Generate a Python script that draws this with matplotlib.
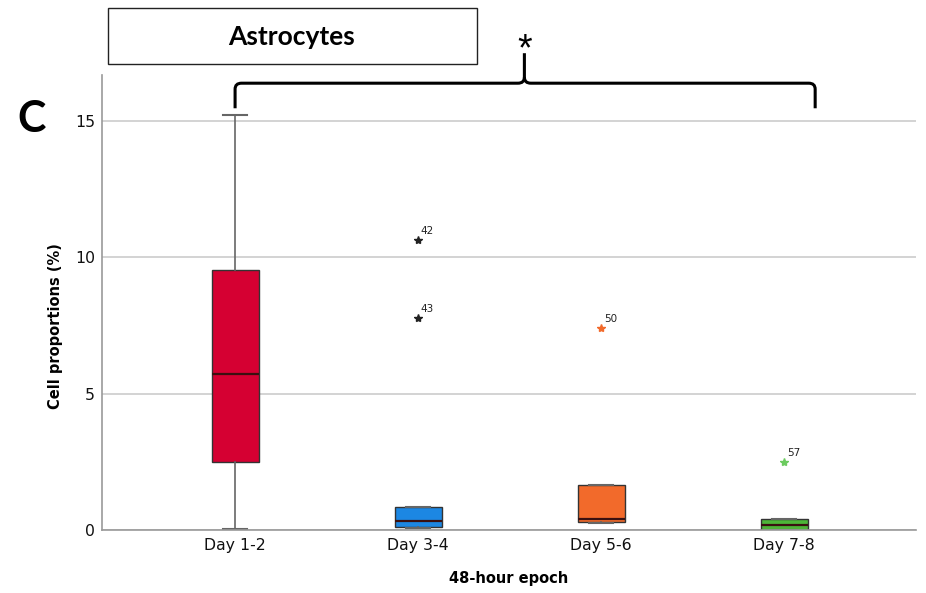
import matplotlib
matplotlib.use("Agg")
import matplotlib.pyplot as plt
from matplotlib.patches import Rectangle, PathPatch
from matplotlib.path import Path

plt.rcParams["font.family"] = ["DejaVu Sans"]

# Box-plot summaries per 48-hour epoch (cell proportions, %)
epochs = ["Day 1-2", "Day 3-4", "Day 5-6", "Day 7-8"]
whisker_low = [0.02, 0.06, 0.25, 0.0]
q1 = [2.49, 0.11, 0.28, 0.0]
median = [5.72, 0.33, 0.40, 0.18]
q3 = [9.53, 0.84, 1.65, 0.39]
whisker_high = [15.22, 0.84, 1.65, 0.39]
box_colors = ["#D50032", "#1C87E3", "#F26A2B", "#4DB538"]

# Extreme values flagged with case numbers
outlier_epoch = [1, 1, 2, 3]
outlier_value = [10.63, 7.77, 7.41, 2.49]
outlier_case = ["42", "43", "50", "57"]
outlier_colors = ["#222222", "#222222", "#F26A2B", "#6CCB5F"]

fig = plt.figure(figsize=(9.26, 5.93), dpi=100)
ax = fig.add_axes([0.1102, 0.1062, 0.8788, 0.7673])

stats = []
for i in range(len(epochs)):
    stats.append(dict(med=median[i], q1=q1[i], q3=q3[i],
                      whislo=whisker_low[i], whishi=whisker_high[i],
                      fliers=[], label=epochs[i]))

bp = ax.bxp(stats, positions=range(len(epochs)), widths=0.257,
            patch_artist=True, showfliers=False,
            boxprops=dict(edgecolor="#333333", linewidth=1.0),
            medianprops=dict(color="#3a1010", linewidth=1.6),
            whiskerprops=dict(color="#666666", linewidth=1.2),
            capprops=dict(color="#666666", linewidth=1.5),
            capwidths=0.13)
for patch, c in zip(bp["boxes"], box_colors):
    patch.set_facecolor(c)

for xi, v, lab, c in zip(outlier_epoch, outlier_value, outlier_case, outlier_colors):
    ax.plot(xi, v, marker="*", color=c, markersize=6, linestyle="none", zorder=4)
    ax.annotate(lab, (xi, v), xytext=(2, 3), textcoords="offset points",
                fontsize=7.5, color="#222222", ha="left", va="bottom")

ax.set_xlim(-0.727, 3.72)
ax.set_ylim(0, 16.69)
ax.set_yticks([0, 5, 10, 15])
ax.set_yticklabels(["0", "5", "10", "15"])
ax.set_xticks(range(len(epochs)))
ax.set_xticklabels(epochs)
ax.tick_params(axis="both", length=0, labelsize=11.3, colors="#111111")
ax.tick_params(axis="x", pad=6)
ax.tick_params(axis="y", pad=5)
ax.yaxis.grid(True, color="#d0d0d0", linewidth=1.3)
ax.set_axisbelow(True)
for s in ["top", "right"]:
    ax.spines[s].set_visible(False)
for s in ["left", "bottom"]:
    ax.spines[s].set_color("#999999")
    ax.spines[s].set_linewidth(1.2)

fig.text(0.0594, 0.45, "Cell proportions (%)", rotation=90, fontsize=10.5,
         fontweight="bold", ha="center", va="center")
fig.text(0.5497, 0.025, "48-hour epoch", fontsize=10.5, fontweight="bold",
         ha="center", va="center")

# Significance brace spanning all epochs
x0, x1, xm = 0.0, 3.17, 1.581
yb, yh, yt = 15.47, 16.39, 17.49
rx, ry = 0.035, 0.22
verts = [(x0, yb), (x0, yh - ry), (x0, yh), (x0 + rx, yh),
         (xm - rx, yh), (xm, yh), (xm, yh + ry), (xm, yt),
         (xm, yh + ry), (xm, yh), (xm + rx, yh),
         (x1 - rx, yh), (x1, yh), (x1, yh - ry), (x1, yb)]
codes = [Path.MOVETO, Path.LINETO, Path.CURVE3, Path.CURVE3,
         Path.LINETO, Path.CURVE3, Path.CURVE3, Path.LINETO,
         Path.MOVETO, Path.CURVE3, Path.CURVE3,
         Path.LINETO, Path.CURVE3, Path.CURVE3, Path.LINETO]
ax.add_patch(PathPatch(Path(verts, codes), facecolor="none", edgecolor="black",
                       linewidth=2.2, clip_on=False, capstyle="butt"))
ax.text(xm, 17.6, "*", fontsize=27, ha="center", va="center",
        fontfamily="Liberation Sans")

# Title box and panel letter
fig.patches.append(Rectangle((0.1166, 0.892), 0.3985, 0.0944, transform=fig.transFigure,
                             facecolor="white", edgecolor="#222222", linewidth=1.0))
fig.text(0.3153, 0.9376, "Astrocytes", fontsize=19, fontweight="bold",
         fontfamily="Lato", ha="center", va="center")
fig.text(0.0345, 0.8, "C", fontsize=31, fontweight="bold", fontfamily="Lato",
         ha="center", va="center")

fig.savefig("out.png", dpi=100)
